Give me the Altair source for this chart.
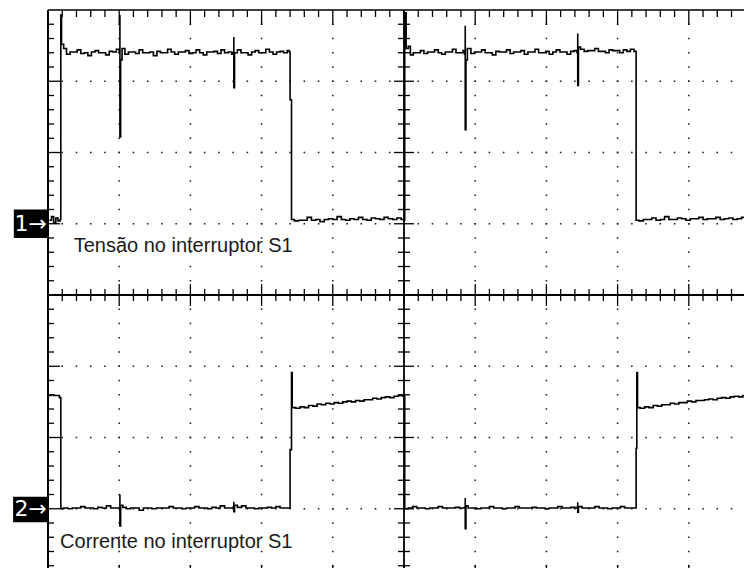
import altair as alt
import pandas as pd

# ---- Oscilloscope screen: time in divisions (0..10), amplitude in divisions ----
# Channel 1 (switch voltage), amplitude relative to its ground marker
CH1 = [
    (0.02, 0.05), (0.05, 0.10), (0.08, 0.01), (0.11, 0.08), (0.14, 0.04), (0.17, 0.06),
    (0.18, 0.06), (0.18, 2.93), (0.19, 2.52), (0.22, 2.46),
    (0.26, 2.38), (0.31, 2.41), (0.36, 2.41), (0.41, 2.44), (0.46, 2.39), (0.51, 2.40),
    (0.56, 2.36), (0.61, 2.41), (0.66, 2.43), (0.71, 2.40), (0.76, 2.40), (0.81, 2.37),
    (0.86, 2.42), (0.91, 2.41), (0.96, 2.45),
    (1.00, 2.40), (1.01, 2.93), (1.01, 1.22), (1.02, 2.30), (1.04, 2.46), (1.08, 2.38),
    (1.13, 2.41), (1.18, 2.41), (1.23, 2.39), (1.28, 2.44), (1.33, 2.40), (1.38, 2.40),
    (1.43, 2.41), (1.48, 2.36), (1.53, 2.42), (1.58, 2.40), (1.63, 2.40), (1.68, 2.45),
    (1.73, 2.41), (1.78, 2.38), (1.83, 2.41), (1.88, 2.41), (1.93, 2.43), (1.98, 2.39),
    (2.03, 2.40), (2.08, 2.44), (2.13, 2.40), (2.18, 2.37), (2.23, 2.41), (2.28, 2.41),
    (2.33, 2.42), (2.38, 2.39), (2.43, 2.44), (2.48, 2.40), (2.53, 2.41), (2.58, 2.38),
    (2.60, 2.40), (2.61, 2.62), (2.61, 1.91), (2.62, 2.40), (2.66, 2.44), (2.71, 2.40),
    (2.76, 2.40), (2.81, 2.37), (2.86, 2.41), (2.91, 2.43), (2.96, 2.40), (3.01, 2.40),
    (3.06, 2.45), (3.11, 2.41), (3.16, 2.38), (3.21, 2.41), (3.26, 2.42), (3.31, 2.40),
    (3.36, 2.43), (3.39, 2.41),
    (3.40, 2.41), (3.40, 1.74), (3.42, 1.74), (3.42, 0.06),
    (3.46, 0.04), (3.52, 0.05), (3.58, 0.05), (3.64, 0.09), (3.70, 0.05), (3.76, 0.06),
    (3.82, 0.03), (3.88, 0.06), (3.94, 0.07), (4.00, 0.06), (4.06, 0.10), (4.12, 0.06),
    (4.18, 0.05), (4.24, 0.07), (4.30, 0.06), (4.36, 0.09), (4.42, 0.06), (4.48, 0.05),
    (4.54, 0.08), (4.60, 0.07), (4.66, 0.06), (4.72, 0.09), (4.78, 0.07), (4.84, 0.06),
    (4.90, 0.08), (4.96, 0.06), (5.00, 0.05),
    (5.01, 0.05), (5.01, 2.96), (5.03, 2.46), (5.06, 2.49), (5.09, 2.37),
    (5.13, 2.40), (5.18, 2.40), (5.23, 2.43), (5.28, 2.39), (5.33, 2.41), (5.38, 2.41),
    (5.43, 2.44), (5.48, 2.40), (5.53, 2.38), (5.58, 2.41), (5.63, 2.41), (5.68, 2.45),
    (5.73, 2.40), (5.78, 2.40), (5.83, 2.43),
    (5.85, 2.38), (5.86, 2.78), (5.86, 1.32), (5.87, 2.30), (5.89, 2.46), (5.94, 2.39),
    (5.99, 2.41), (6.04, 2.41), (6.09, 2.44), (6.14, 2.40), (6.19, 2.40), (6.24, 2.37),
    (6.29, 2.42), (6.34, 2.41), (6.39, 2.41), (6.44, 2.44), (6.49, 2.39), (6.54, 2.41),
    (6.59, 2.41), (6.64, 2.43), (6.69, 2.38), (6.74, 2.41), (6.79, 2.41), (6.84, 2.45),
    (6.89, 2.40), (6.94, 2.40), (6.99, 2.42), (7.04, 2.38), (7.09, 2.41), (7.14, 2.44),
    (7.19, 2.41), (7.24, 2.41), (7.29, 2.38), (7.34, 2.42), (7.39, 2.43),
    (7.43, 2.40), (7.44, 2.67), (7.44, 1.94), (7.45, 2.48), (7.48, 2.45), (7.53, 2.42),
    (7.58, 2.43), (7.63, 2.43), (7.68, 2.46), (7.73, 2.42), (7.78, 2.42), (7.83, 2.40),
    (7.88, 2.44), (7.93, 2.43), (7.98, 2.43), (8.03, 2.40), (8.08, 2.44), (8.13, 2.42),
    (8.18, 2.45), (8.23, 2.42), (8.25, 2.42),
    (8.26, 2.42), (8.26, 0.05),
    (8.30, 0.04), (8.36, 0.06), (8.42, 0.06), (8.48, 0.08), (8.54, 0.05), (8.60, 0.06),
    (8.66, 0.10), (8.72, 0.06), (8.78, 0.06), (8.84, 0.08), (8.90, 0.07), (8.96, 0.05),
    (9.02, 0.07), (9.08, 0.07), (9.14, 0.09), (9.20, 0.06), (9.26, 0.07), (9.32, 0.07),
    (9.38, 0.09), (9.44, 0.06), (9.50, 0.07), (9.56, 0.08), (9.62, 0.06), (9.68, 0.07),
    (9.74, 0.09), (9.80, 0.06), (9.84, 0.06),
    (9.85, 0.06), (9.85, 2.96), (9.87, 2.50), (9.90, 2.42),
]

# Channel 2 (switch current), amplitude relative to its ground marker
CH2 = [
    (0.00, 1.59), (0.04, 1.60), (0.08, 1.59), (0.12, 1.59), (0.16, 1.56), (0.18, 1.50),
    (0.18, 0.00),
    (0.22, 0.01), (0.28, 0.00), (0.34, 0.01), (0.40, 0.01), (0.46, 0.03), (0.52, 0.01),
    (0.58, 0.01), (0.64, 0.00), (0.70, 0.02), (0.76, 0.01), (0.82, 0.04), (0.88, 0.01),
    (0.94, 0.01), (1.00, 0.01),
    (1.01, 0.20), (1.01, -0.24), (1.02, 0.05), (1.05, 0.02), (1.10, 0.00), (1.16, 0.01),
    (1.22, 0.01), (1.28, -0.02), (1.34, 0.01), (1.40, 0.01), (1.46, 0.00), (1.52, 0.01),
    (1.58, 0.01), (1.64, 0.01), (1.70, 0.03), (1.76, 0.01), (1.82, 0.01), (1.88, 0.00),
    (1.94, 0.01), (2.00, 0.01), (2.06, 0.03), (2.12, 0.01), (2.18, 0.01), (2.24, 0.00),
    (2.30, 0.02), (2.36, 0.01), (2.42, 0.04), (2.48, 0.01), (2.54, 0.01),
    (2.60, 0.02), (2.61, 0.10), (2.61, -0.04), (2.62, 0.05), (2.66, 0.02), (2.72, 0.04),
    (2.78, 0.01), (2.84, 0.01), (2.90, 0.00), (2.96, 0.01), (3.02, 0.01), (3.08, 0.02),
    (3.14, 0.01), (3.20, 0.03), (3.26, 0.01), (3.32, 0.01), (3.39, 0.01),
    (3.40, 0.01), (3.40, 0.83), (3.42, 0.83), (3.42, 1.91), (3.43, 1.42),
    (3.48, 1.41), (3.54, 1.43), (3.60, 1.42), (3.66, 1.45), (3.72, 1.44), (3.78, 1.47),
    (3.84, 1.46), (3.90, 1.48), (3.96, 1.47), (4.02, 1.49), (4.08, 1.48), (4.14, 1.50),
    (4.20, 1.51), (4.26, 1.50), (4.32, 1.52), (4.38, 1.51), (4.44, 1.53), (4.50, 1.53),
    (4.56, 1.55), (4.62, 1.54), (4.68, 1.56), (4.74, 1.57), (4.80, 1.56), (4.86, 1.58),
    (4.92, 1.59), (4.98, 1.58), (5.00, 1.60),
    (5.01, 1.60), (5.01, 0.00),
    (5.06, 0.01), (5.12, 0.03), (5.18, 0.01), (5.24, 0.01), (5.30, 0.00), (5.36, 0.01),
    (5.42, 0.01), (5.48, 0.03), (5.54, 0.01), (5.60, 0.01), (5.66, 0.01), (5.72, 0.02),
    (5.78, 0.01), (5.84, 0.01),
    (5.85, 0.02), (5.86, 0.15), (5.86, -0.28), (5.87, 0.04), (5.90, 0.01), (5.96, 0.01),
    (6.02, 0.00), (6.08, 0.01), (6.14, 0.01), (6.20, 0.03), (6.26, 0.01), (6.32, 0.01),
    (6.38, 0.00), (6.44, 0.01), (6.50, 0.01), (6.56, 0.03), (6.62, 0.01), (6.68, 0.01),
    (6.74, 0.01), (6.80, 0.02), (6.86, 0.01), (6.92, 0.01), (6.98, 0.00), (7.04, 0.01),
    (7.10, 0.01), (7.16, 0.03), (7.22, 0.01), (7.28, 0.01), (7.34, 0.02), (7.40, 0.01),
    (7.43, 0.02), (7.44, 0.09), (7.44, -0.05), (7.45, 0.03), (7.50, 0.01), (7.56, 0.01),
    (7.62, 0.01), (7.68, 0.03), (7.74, 0.01), (7.80, 0.01), (7.86, 0.00), (7.92, 0.01),
    (7.98, 0.01), (8.04, 0.03), (8.10, 0.01), (8.16, 0.01), (8.25, 0.01),
    (8.26, 0.01), (8.26, 0.85), (8.27, 0.85), (8.27, 1.91), (8.28, 1.42),
    (8.32, 1.41), (8.38, 1.43), (8.44, 1.42), (8.50, 1.45), (8.56, 1.44), (8.62, 1.46),
    (8.68, 1.46), (8.74, 1.48), (8.80, 1.47), (8.86, 1.49), (8.92, 1.49), (8.98, 1.51),
    (9.04, 1.50), (9.10, 1.52), (9.16, 1.52), (9.22, 1.53), (9.28, 1.54), (9.34, 1.53),
    (9.40, 1.55), (9.46, 1.56), (9.52, 1.55), (9.58, 1.57), (9.64, 1.58), (9.70, 1.57),
    (9.76, 1.59), (9.82, 1.60), (9.84, 1.60),
    (9.85, 1.60), (9.85, 0.00), (9.90, 0.01),
]

CH1_GROUND = 1.0    # ground marker positions (divisions from screen centre)
CH2_GROUND = -3.0
MARKERS = ["1→", "2→"]
LABELS = ["Tensão no interruptor S1", "Corrente no interruptor S1"]

# ---- screen geometry ----
PXX, PXY = 71.2, 71.25           # pixels per division
W, H = 736, 560
X_DOM = [-40 / PXX, -40 / PXX + W / PXX]
Y_DOM = [4 + 2 / PXY - H / PXY, 4 + 2 / PXY]
xs = alt.Scale(domain=X_DOM, nice=False, zero=False)
ys = alt.Scale(domain=Y_DOM, nice=False, zero=False)

# traces
rows = []
for ch, pts, g in (("1", CH1, CH1_GROUND), ("2", CH2, CH2_GROUND)):
    for i, (t, v) in enumerate(pts):
        rows.append({"ch": ch, "i": i, "t": t, "v": v + g})
trace_df = pd.DataFrame(rows)

# graticule dots
dots = []
for gx in [1, 2, 3, 4, 6, 7, 8, 9]:
    for k in range(1, 40):
        dots.append({"x": gx, "y": round(-4 + 0.2 * k, 3)})
for gy in [-3, -2, -1, 1, 2, 3]:
    for k in range(1, 50):
        dots.append({"x": round(0.2 * k, 3), "y": gy})
dot_df = pd.DataFrame(dots)

# frame, centre lines and ticks
rules = [
    {"x": 0, "x2": 0, "y": -4, "y2": 4, "w": 2},
    {"x": 10, "x2": 10, "y": -4, "y2": 4, "w": 2},
    {"x": 0, "x2": 10, "y": 4, "y2": 4, "w": 1.5},
    {"x": 0, "x2": 10, "y": -4, "y2": -4, "w": 1.5},
    {"x": 5, "x2": 5, "y": -4, "y2": 4, "w": 1.8},
    {"x": 0, "x2": 10, "y": 0, "y2": 0, "w": 1.8},
]
for k in range(1, 50):
    xk = round(0.2 * k, 3)
    major = k % 5 == 0
    L = 15 if major else 7
    rules.append({"x": xk, "x2": xk, "y": 4, "y2": 4 - L / PXY, "w": 1.3})
    rules.append({"x": xk, "x2": xk, "y": -4, "y2": -4 + L / PXY, "w": 1.3})
    Lc = 11 if major else 6
    rules.append({"x": xk, "x2": xk, "y": -Lc / PXY, "y2": Lc / PXY, "w": 1.3})
for k in range(1, 40):
    yk = round(-4 + 0.2 * k, 3)
    major = k % 5 == 0
    L = 12 if major else 6
    rules.append({"x": 0, "x2": L / PXX, "y": yk, "y2": yk, "w": 1.3})
    rules.append({"x": 10, "x2": 10 - L / PXX, "y": yk, "y2": yk, "w": 1.3})
    Lc = 10 if major else 6
    rules.append({"x": 5 - Lc / PXX, "x2": 5 + Lc / PXX, "y": yk, "y2": yk, "w": 1.3})
rule_df = pd.DataFrame(rules)

marker_df = pd.DataFrame({
    "x": [-0.48, -0.49], "x2": [0, 0],
    "y": [CH1_GROUND - 0.2, CH2_GROUND - 0.19], "y2": [CH1_GROUND + 0.2, CH2_GROUND + 0.17],
    "yc": [CH1_GROUND, CH2_GROUND], "txt": MARKERS,
})
label_df = pd.DataFrame({"x": [0.36, 0.17], "y": [0.60, -3.55], "txt": LABELS})

dots_layer = alt.Chart(dot_df).mark_square(size=2.5, color="#222", opacity=1).encode(
    x=alt.X("x:Q", scale=xs, axis=None), y=alt.Y("y:Q", scale=ys, axis=None))

rule_layer = alt.Chart(rule_df).mark_rule(color="black").encode(
    x=alt.X("x:Q", scale=xs, axis=None), x2="x2:Q",
    y=alt.Y("y:Q", scale=ys, axis=None), y2="y2:Q",
    strokeWidth=alt.StrokeWidth("w:Q", scale=None))

trace_layer = alt.Chart(trace_df).mark_line(
    color="black", strokeWidth=1.6, interpolate="step-after"
).encode(
    x=alt.X("t:Q", scale=xs, axis=None), y=alt.Y("v:Q", scale=ys, axis=None),
    detail="ch:N", order="i:Q")

box_layer = alt.Chart(marker_df).mark_rect(color="black").encode(
    x=alt.X("x:Q", scale=xs, axis=None), x2="x2:Q",
    y=alt.Y("y:Q", scale=ys, axis=None), y2="y2:Q")

marker_text = alt.Chart(marker_df).mark_text(
    color="white", font="DejaVu Sans", fontSize=22, align="right", baseline="middle", dx=-1
).encode(x=alt.X("x2:Q", scale=xs, axis=None), y=alt.Y("yc:Q", scale=ys, axis=None), text="txt:N")

label_text = alt.Chart(label_df).mark_text(
    color="#1a1a1a", font="Liberation Sans", fontSize=20, align="left", baseline="alphabetic"
).encode(x=alt.X("x:Q", scale=xs, axis=None), y=alt.Y("y:Q", scale=ys, axis=None), text="txt:N")

chart = alt.layer(dots_layer, rule_layer, trace_layer, box_layer, marker_text, label_text).properties(
    width=W, height=H, padding=0, background="white",
    autosize=alt.AutoSizeParams(type="none"),
).configure_view(strokeWidth=0)

chart.save("out.html", embed_options={"renderer": "svg", "actions": False})
